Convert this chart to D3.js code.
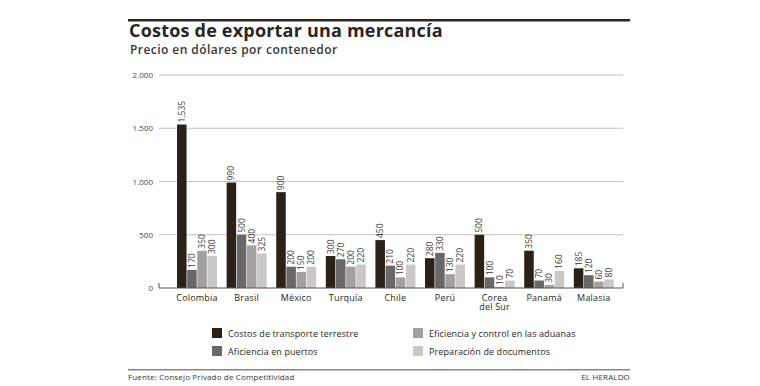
<!DOCTYPE html>
<html>
<head>
<meta charset="utf-8">
<script src="https://cdn.jsdelivr.net/npm/d3@7"></script>
<style>
  body { margin: 0; background: #fff; }
  svg { font-family: 'Open Sans', 'DejaVu Sans', sans-serif; }
</style>
</head>
<body>
<div class="canvas"></div>
<script>
// data
const countries = ['Colombia', 'Brasil', 'México', 'Turquía', 'Chile', 'Perú', 'Corea del Sur', 'Panamá', 'Malasia']
const seriesNames = ['Costos de transporte terrestre', 'Aficiencia en puertos', 'Eficiencia y control en las aduanas', 'Preparación de documentos']
const transporte = [1535, 990, 900, 300, 450, 280, 500, 350, 185]
const puertos = [170, 500, 200, 270, 210, 330, 100, 70, 120]
const aduanas = [350, 400, 150, 200, 100, 130, 10, 30, 60]
const documentos = [300, 325, 200, 220, 220, 220, 70, 160, 80]
const yTicks = [0, 500, 1000, 1500, 2000]
const yTickLabels = ['0', '500', '1.000', '1.500', '2.000']

const series = [transporte, puertos, aduanas, documentos]
const colors = ['#2b2119', '#6a6866', '#a3a1a0', '#cac8c6']

const fmt = v => v >= 1000 ? d3.format(',')(v).replace(',', '.') : String(v)

const svg = d3.select('.canvas')
  .append('svg')
  .attr('width', 760)
  .attr('height', 386)

// header
svg.append('rect')
  .attr('x', 128).attr('y', 19).attr('width', 502).attr('height', 2.5)
  .attr('fill', '#2a2624')

svg.append('text')
  .attr('x', 129).attr('y', 36.5)
  .attr('font-size', 18).attr('font-weight', 700)
  .attr('letter-spacing', 0.2)
  .attr('fill', '#2a2624')
  .text('Costos de exportar una mercancía')

svg.append('text')
  .attr('x', 130).attr('y', 53.5)
  .attr('font-size', 12).attr('font-weight', 600)
  .attr('letter-spacing', 0.45)
  .attr('fill', '#3a3634')
  .text('Precio en dólares por contenedor')

// scales
const y = d3.scaleLinear().domain([0, 2000]).range([288, 75])

const x0 = d3.scaleBand()
  .domain(countries)
  .range([172.2, 618.6])
  .paddingInner(0.194)
  .paddingOuter(0.097)

const x1 = d3.scaleBand()
  .domain(d3.range(4))
  .range([0, x0.bandwidth()])
  .paddingInner(0.06)

// grid
svg.append('g')
  .selectAll('line')
  .data(yTicks.slice(1))
  .join('line')
    .attr('x1', 159).attr('x2', 623)
    .attr('y1', d => y(d)).attr('y2', d => y(d))
    .attr('stroke', '#c4c2c0')
    .attr('stroke-width', 1)

// tick labels
svg.append('g')
  .selectAll('text')
  .data(yTicks)
  .join('text')
    .attr('x', 153)
    .attr('y', d => y(d) + 3)
    .attr('text-anchor', 'end')
    .attr('font-size', 8)
    .attr('fill', '#4a4644')
    .text((d, i) => yTickLabels[i])

// bars
const groups = svg.append('g')
  .selectAll('g')
  .data(countries)
  .join('g')
    .attr('transform', d => `translate(${x0(d)},0)`)

groups.selectAll('rect')
  .data((c, ci) => series.map((s, si) => ({ si, v: s[ci] })))
  .join('rect')
    .attr('x', d => x1(d.si))
    .attr('width', x1.bandwidth())
    .attr('y', d => y(d.v))
    .attr('height', d => y(0) - y(d.v))
    .attr('fill', d => colors[d.si])

groups.selectAll('text.val')
  .data((c, ci) => series.map((s, si) => ({ si, v: s[ci] })))
  .join('text')
    .attr('class', 'val')
    .attr('transform', d => `translate(${x1(d.si) + x1.bandwidth() / 2 + 3},${y(d.v) - 2}) rotate(-90)`)
    .attr('font-size', 8.5)
    .attr('fill', '#3a3634')
    .text(d => fmt(d.v))

// baseline
svg.append('path')
  .attr('d', `M159,${y(0) - 5}V${y(0)}H623V${y(0) - 5}`)
  .attr('fill', 'none')
  .attr('stroke', '#55524f')
  .attr('stroke-width', 1)

// country labels
groups.append('text')
  .attr('y', 301)
  .attr('text-anchor', 'middle')
  .attr('font-size', 9)
  .attr('letter-spacing', 0.2)
  .attr('fill', '#2a2624')
  .selectAll('tspan')
  .data(d => d === 'Corea del Sur' ? ['Corea', 'del Sur'] : [d])
  .join('tspan')
    .attr('x', x0.bandwidth() / 2)
    .attr('dy', (d, i) => i ? 8.5 : 0)
    .text(d => d)

// legend
const legendPos = [[212, 328], [212, 346], [413, 328], [413, 346]]
const legend = svg.append('g')
  .selectAll('g')
  .data(seriesNames)
  .join('g')
    .attr('transform', (d, i) => `translate(${legendPos[i]})`)

legend.append('rect')
  .attr('width', 10).attr('height', 10)
  .attr('fill', (d, i) => colors[i])

legend.append('text')
  .attr('x', 16).attr('y', 8.5)
  .attr('font-size', 9)
  .attr('letter-spacing', 0.1)
  .attr('fill', '#2a2624')
  .text(d => d)

// footer
svg.append('rect')
  .attr('x', 128).attr('y', 369).attr('width', 502).attr('height', 1.5)
  .attr('fill', '#8a8684')

svg.append('text')
  .attr('x', 128).attr('y', 380)
  .attr('font-size', 8)
  .attr('letter-spacing', 0.15)
  .attr('fill', '#3a3634')
  .text('Fuente: Consejo Privado de Competitividad')

svg.append('text')
  .attr('x', 630).attr('y', 380)
  .attr('text-anchor', 'end')
  .attr('font-size', 8)
  .attr('letter-spacing', 0.15)
  .attr('fill', '#3a3634')
  .text('EL HERALDO')
</script>
</body>
</html>
